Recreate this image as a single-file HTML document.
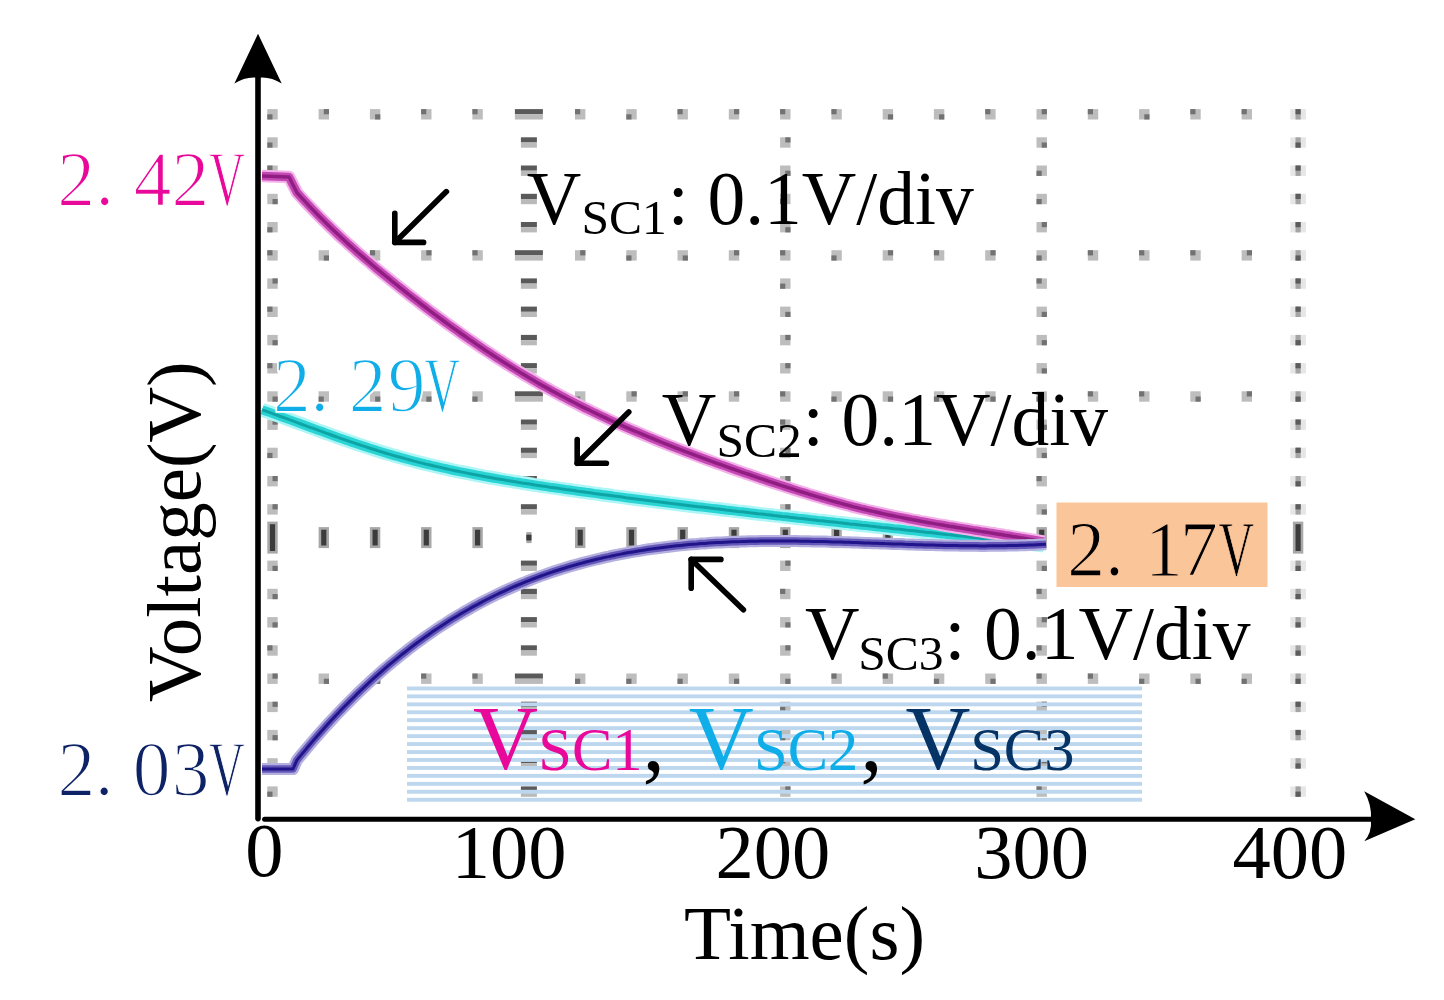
<!DOCTYPE html>
<html><head><meta charset="utf-8"><style>
html,body{margin:0;padding:0;background:#fff;}
svg{display:block;}
text{font-family:"Liberation Serif", serif;}
</style></head><body>
<svg width="1444" height="1000" viewBox="0 0 1444 1000">
<rect width="1444" height="1000" fill="#fff"/>
<rect x="267.3" y="109.1" width="10.4" height="10.4" fill="#bdbdbd"/>
<rect x="267.3" y="114.3" width="5.2" height="5.2" fill="#727272"/>
<rect x="318.6" y="109.1" width="10.4" height="10.4" fill="#bdbdbd"/>
<rect x="323.8" y="109.1" width="5.2" height="5.2" fill="#727272"/>
<rect x="369.9" y="109.1" width="10.4" height="10.4" fill="#bdbdbd"/>
<rect x="375.1" y="114.3" width="5.2" height="5.2" fill="#727272"/>
<rect x="421.1" y="109.1" width="10.4" height="10.4" fill="#bdbdbd"/>
<rect x="421.1" y="109.1" width="5.2" height="5.2" fill="#727272"/>
<rect x="472.4" y="109.1" width="10.4" height="10.4" fill="#bdbdbd"/>
<rect x="472.4" y="109.1" width="5.2" height="5.2" fill="#727272"/>
<rect x="514.9" y="109.1" width="28.0" height="5.2" fill="#5a5a5a"/>
<rect x="514.9" y="114.3" width="28.0" height="5.2" fill="#bababa"/>
<rect x="575.0" y="109.1" width="10.4" height="10.4" fill="#bdbdbd"/>
<rect x="575.0" y="109.1" width="5.2" height="5.2" fill="#727272"/>
<rect x="626.3" y="109.1" width="10.4" height="10.4" fill="#bdbdbd"/>
<rect x="626.3" y="114.3" width="5.2" height="5.2" fill="#727272"/>
<rect x="677.5" y="109.1" width="10.4" height="10.4" fill="#bdbdbd"/>
<rect x="677.5" y="109.1" width="5.2" height="5.2" fill="#727272"/>
<rect x="728.8" y="109.1" width="10.4" height="10.4" fill="#bdbdbd"/>
<rect x="734.0" y="109.1" width="5.2" height="5.2" fill="#727272"/>
<rect x="780.1" y="109.1" width="10.4" height="10.4" fill="#bdbdbd"/>
<rect x="780.1" y="109.1" width="5.2" height="5.2" fill="#727272"/>
<rect x="831.4" y="109.1" width="10.4" height="10.4" fill="#bdbdbd"/>
<rect x="831.4" y="109.1" width="5.2" height="5.2" fill="#727272"/>
<rect x="882.7" y="109.1" width="10.4" height="10.4" fill="#bdbdbd"/>
<rect x="887.9" y="114.3" width="5.2" height="5.2" fill="#727272"/>
<rect x="933.9" y="109.1" width="10.4" height="10.4" fill="#bdbdbd"/>
<rect x="939.1" y="114.3" width="5.2" height="5.2" fill="#727272"/>
<rect x="985.2" y="109.1" width="10.4" height="10.4" fill="#bdbdbd"/>
<rect x="985.2" y="109.1" width="5.2" height="5.2" fill="#727272"/>
<rect x="1036.5" y="109.1" width="10.4" height="10.4" fill="#bdbdbd"/>
<rect x="1041.7" y="109.1" width="5.2" height="5.2" fill="#727272"/>
<rect x="1087.8" y="109.1" width="10.4" height="10.4" fill="#bdbdbd"/>
<rect x="1087.8" y="109.1" width="5.2" height="5.2" fill="#727272"/>
<rect x="1139.1" y="109.1" width="10.4" height="10.4" fill="#bdbdbd"/>
<rect x="1144.3" y="114.3" width="5.2" height="5.2" fill="#727272"/>
<rect x="1190.3" y="109.1" width="10.4" height="10.4" fill="#bdbdbd"/>
<rect x="1190.3" y="109.1" width="5.2" height="5.2" fill="#727272"/>
<rect x="1241.6" y="109.1" width="10.4" height="10.4" fill="#bdbdbd"/>
<rect x="1241.6" y="109.1" width="5.2" height="5.2" fill="#727272"/>
<rect x="1290.3" y="109.1" width="15.6" height="10.4" fill="#e6e6e6"/>
<rect x="1295.5" y="109.1" width="5.2" height="10.4" fill="#a4a4a4"/>
<rect x="1295.5" y="109.1" width="5.2" height="5.2" fill="#5c5c5c"/>
<rect x="267.3" y="250.2" width="10.4" height="10.4" fill="#bdbdbd"/>
<rect x="267.3" y="250.2" width="5.2" height="5.2" fill="#727272"/>
<rect x="318.6" y="250.2" width="10.4" height="10.4" fill="#bdbdbd"/>
<rect x="323.8" y="255.4" width="5.2" height="5.2" fill="#727272"/>
<rect x="369.9" y="250.2" width="10.4" height="10.4" fill="#bdbdbd"/>
<rect x="369.9" y="250.2" width="5.2" height="5.2" fill="#727272"/>
<rect x="421.1" y="250.2" width="10.4" height="10.4" fill="#bdbdbd"/>
<rect x="426.3" y="250.2" width="5.2" height="5.2" fill="#727272"/>
<rect x="472.4" y="250.2" width="10.4" height="10.4" fill="#bdbdbd"/>
<rect x="472.4" y="250.2" width="5.2" height="5.2" fill="#727272"/>
<rect x="514.9" y="250.2" width="28.0" height="5.2" fill="#5a5a5a"/>
<rect x="514.9" y="255.4" width="28.0" height="5.2" fill="#bababa"/>
<rect x="575.0" y="250.2" width="10.4" height="10.4" fill="#bdbdbd"/>
<rect x="580.2" y="250.2" width="5.2" height="5.2" fill="#727272"/>
<rect x="626.3" y="250.2" width="10.4" height="10.4" fill="#bdbdbd"/>
<rect x="626.3" y="255.4" width="5.2" height="5.2" fill="#727272"/>
<rect x="677.5" y="250.2" width="10.4" height="10.4" fill="#bdbdbd"/>
<rect x="682.7" y="255.4" width="5.2" height="5.2" fill="#727272"/>
<rect x="728.8" y="250.2" width="10.4" height="10.4" fill="#bdbdbd"/>
<rect x="734.0" y="250.2" width="5.2" height="5.2" fill="#727272"/>
<rect x="780.1" y="250.2" width="10.4" height="10.4" fill="#bdbdbd"/>
<rect x="780.1" y="250.2" width="5.2" height="5.2" fill="#727272"/>
<rect x="831.4" y="250.2" width="10.4" height="10.4" fill="#bdbdbd"/>
<rect x="831.4" y="255.4" width="5.2" height="5.2" fill="#727272"/>
<rect x="882.7" y="250.2" width="10.4" height="10.4" fill="#bdbdbd"/>
<rect x="887.9" y="250.2" width="5.2" height="5.2" fill="#727272"/>
<rect x="933.9" y="250.2" width="10.4" height="10.4" fill="#bdbdbd"/>
<rect x="933.9" y="250.2" width="5.2" height="5.2" fill="#727272"/>
<rect x="985.2" y="250.2" width="10.4" height="10.4" fill="#bdbdbd"/>
<rect x="990.4" y="250.2" width="5.2" height="5.2" fill="#727272"/>
<rect x="1036.5" y="250.2" width="10.4" height="10.4" fill="#bdbdbd"/>
<rect x="1036.5" y="255.4" width="5.2" height="5.2" fill="#727272"/>
<rect x="1087.8" y="250.2" width="10.4" height="10.4" fill="#bdbdbd"/>
<rect x="1087.8" y="250.2" width="5.2" height="5.2" fill="#727272"/>
<rect x="1139.1" y="250.2" width="10.4" height="10.4" fill="#bdbdbd"/>
<rect x="1139.1" y="250.2" width="5.2" height="5.2" fill="#727272"/>
<rect x="1190.3" y="250.2" width="10.4" height="10.4" fill="#bdbdbd"/>
<rect x="1190.3" y="250.2" width="5.2" height="5.2" fill="#727272"/>
<rect x="1241.6" y="250.2" width="10.4" height="10.4" fill="#bdbdbd"/>
<rect x="1246.8" y="250.2" width="5.2" height="5.2" fill="#727272"/>
<rect x="1290.3" y="250.2" width="15.6" height="10.4" fill="#e6e6e6"/>
<rect x="1295.5" y="250.2" width="5.2" height="10.4" fill="#a4a4a4"/>
<rect x="1295.5" y="255.4" width="5.2" height="5.2" fill="#5c5c5c"/>
<rect x="267.3" y="391.3" width="10.4" height="10.4" fill="#bdbdbd"/>
<rect x="272.5" y="396.5" width="5.2" height="5.2" fill="#727272"/>
<rect x="318.6" y="391.3" width="10.4" height="10.4" fill="#bdbdbd"/>
<rect x="318.6" y="396.5" width="5.2" height="5.2" fill="#727272"/>
<rect x="369.9" y="391.3" width="10.4" height="10.4" fill="#bdbdbd"/>
<rect x="375.1" y="396.5" width="5.2" height="5.2" fill="#727272"/>
<rect x="421.1" y="391.3" width="10.4" height="10.4" fill="#bdbdbd"/>
<rect x="426.3" y="396.5" width="5.2" height="5.2" fill="#727272"/>
<rect x="472.4" y="391.3" width="10.4" height="10.4" fill="#bdbdbd"/>
<rect x="472.4" y="396.5" width="5.2" height="5.2" fill="#727272"/>
<rect x="514.9" y="391.3" width="28.0" height="5.2" fill="#5a5a5a"/>
<rect x="514.9" y="396.5" width="28.0" height="5.2" fill="#bababa"/>
<rect x="575.0" y="391.3" width="10.4" height="10.4" fill="#bdbdbd"/>
<rect x="575.0" y="396.5" width="5.2" height="5.2" fill="#727272"/>
<rect x="626.3" y="391.3" width="10.4" height="10.4" fill="#bdbdbd"/>
<rect x="631.5" y="391.3" width="5.2" height="5.2" fill="#727272"/>
<rect x="677.5" y="391.3" width="10.4" height="10.4" fill="#bdbdbd"/>
<rect x="682.7" y="391.3" width="5.2" height="5.2" fill="#727272"/>
<rect x="728.8" y="391.3" width="10.4" height="10.4" fill="#bdbdbd"/>
<rect x="734.0" y="391.3" width="5.2" height="5.2" fill="#727272"/>
<rect x="780.1" y="391.3" width="10.4" height="10.4" fill="#bdbdbd"/>
<rect x="780.1" y="391.3" width="5.2" height="5.2" fill="#727272"/>
<rect x="831.4" y="391.3" width="10.4" height="10.4" fill="#bdbdbd"/>
<rect x="831.4" y="396.5" width="5.2" height="5.2" fill="#727272"/>
<rect x="882.7" y="391.3" width="10.4" height="10.4" fill="#bdbdbd"/>
<rect x="887.9" y="396.5" width="5.2" height="5.2" fill="#727272"/>
<rect x="933.9" y="391.3" width="10.4" height="10.4" fill="#bdbdbd"/>
<rect x="933.9" y="396.5" width="5.2" height="5.2" fill="#727272"/>
<rect x="985.2" y="391.3" width="10.4" height="10.4" fill="#bdbdbd"/>
<rect x="990.4" y="396.5" width="5.2" height="5.2" fill="#727272"/>
<rect x="1036.5" y="391.3" width="10.4" height="10.4" fill="#bdbdbd"/>
<rect x="1036.5" y="396.5" width="5.2" height="5.2" fill="#727272"/>
<rect x="1087.8" y="391.3" width="10.4" height="10.4" fill="#bdbdbd"/>
<rect x="1087.8" y="391.3" width="5.2" height="5.2" fill="#727272"/>
<rect x="1139.1" y="391.3" width="10.4" height="10.4" fill="#bdbdbd"/>
<rect x="1139.1" y="391.3" width="5.2" height="5.2" fill="#727272"/>
<rect x="1190.3" y="391.3" width="10.4" height="10.4" fill="#bdbdbd"/>
<rect x="1195.5" y="396.5" width="5.2" height="5.2" fill="#727272"/>
<rect x="1241.6" y="391.3" width="10.4" height="10.4" fill="#bdbdbd"/>
<rect x="1246.8" y="391.3" width="5.2" height="5.2" fill="#727272"/>
<rect x="1290.3" y="391.3" width="15.6" height="10.4" fill="#e6e6e6"/>
<rect x="1295.5" y="391.3" width="5.2" height="10.4" fill="#a4a4a4"/>
<rect x="1295.5" y="396.5" width="5.2" height="5.2" fill="#5c5c5c"/>
<rect x="267.3" y="521.6" width="10.4" height="32.0" fill="#a8a8a8"/>
<rect x="269.9" y="524.2" width="5.2" height="26.8" fill="#3c3c3c"/>
<rect x="318.6" y="527.1" width="10.4" height="21.0" fill="#a8a8a8"/>
<rect x="321.2" y="529.7" width="5.2" height="15.8" fill="#3c3c3c"/>
<rect x="369.9" y="527.1" width="10.4" height="21.0" fill="#a8a8a8"/>
<rect x="372.5" y="529.7" width="5.2" height="15.8" fill="#3c3c3c"/>
<rect x="421.1" y="527.1" width="10.4" height="21.0" fill="#a8a8a8"/>
<rect x="423.7" y="529.7" width="5.2" height="15.8" fill="#3c3c3c"/>
<rect x="472.4" y="527.1" width="10.4" height="21.0" fill="#a8a8a8"/>
<rect x="475.0" y="529.7" width="5.2" height="15.8" fill="#3c3c3c"/>
<rect x="526.3" y="532.1" width="5.2" height="11.0" fill="#a8a8a8"/>
<rect x="526.3" y="534.7" width="5.2" height="5.8" fill="#3c3c3c"/>
<rect x="575.0" y="527.1" width="10.4" height="21.0" fill="#a8a8a8"/>
<rect x="577.6" y="529.7" width="5.2" height="15.8" fill="#3c3c3c"/>
<rect x="626.3" y="527.1" width="10.4" height="21.0" fill="#a8a8a8"/>
<rect x="628.9" y="529.7" width="5.2" height="15.8" fill="#3c3c3c"/>
<rect x="677.5" y="527.1" width="10.4" height="21.0" fill="#a8a8a8"/>
<rect x="680.1" y="529.7" width="5.2" height="15.8" fill="#3c3c3c"/>
<rect x="728.8" y="527.1" width="10.4" height="21.0" fill="#a8a8a8"/>
<rect x="731.4" y="529.7" width="5.2" height="15.8" fill="#3c3c3c"/>
<rect x="780.1" y="527.1" width="10.4" height="21.0" fill="#a8a8a8"/>
<rect x="782.7" y="529.7" width="5.2" height="15.8" fill="#3c3c3c"/>
<rect x="831.4" y="527.1" width="10.4" height="21.0" fill="#a8a8a8"/>
<rect x="834.0" y="529.7" width="5.2" height="15.8" fill="#3c3c3c"/>
<rect x="882.7" y="527.1" width="10.4" height="21.0" fill="#a8a8a8"/>
<rect x="885.3" y="529.7" width="5.2" height="15.8" fill="#3c3c3c"/>
<rect x="933.9" y="527.1" width="10.4" height="21.0" fill="#a8a8a8"/>
<rect x="936.5" y="529.7" width="5.2" height="15.8" fill="#3c3c3c"/>
<rect x="985.2" y="527.1" width="10.4" height="21.0" fill="#a8a8a8"/>
<rect x="987.8" y="529.7" width="5.2" height="15.8" fill="#3c3c3c"/>
<rect x="1036.5" y="527.1" width="10.4" height="21.0" fill="#a8a8a8"/>
<rect x="1039.1" y="529.7" width="5.2" height="15.8" fill="#3c3c3c"/>
<rect x="1087.8" y="527.1" width="10.4" height="21.0" fill="#a8a8a8"/>
<rect x="1090.4" y="529.7" width="5.2" height="15.8" fill="#3c3c3c"/>
<rect x="1139.1" y="527.1" width="10.4" height="21.0" fill="#a8a8a8"/>
<rect x="1141.7" y="529.7" width="5.2" height="15.8" fill="#3c3c3c"/>
<rect x="1190.3" y="527.1" width="10.4" height="21.0" fill="#a8a8a8"/>
<rect x="1192.9" y="529.7" width="5.2" height="15.8" fill="#3c3c3c"/>
<rect x="1241.6" y="527.1" width="10.4" height="21.0" fill="#a8a8a8"/>
<rect x="1244.2" y="529.7" width="5.2" height="15.8" fill="#3c3c3c"/>
<rect x="1292.9" y="521.6" width="10.4" height="32.0" fill="#a8a8a8"/>
<rect x="1295.5" y="524.2" width="5.2" height="26.8" fill="#3c3c3c"/>
<rect x="267.3" y="673.5" width="10.4" height="10.4" fill="#bdbdbd"/>
<rect x="272.5" y="673.5" width="5.2" height="5.2" fill="#727272"/>
<rect x="318.6" y="673.5" width="10.4" height="10.4" fill="#bdbdbd"/>
<rect x="323.8" y="678.7" width="5.2" height="5.2" fill="#727272"/>
<rect x="369.9" y="673.5" width="10.4" height="10.4" fill="#bdbdbd"/>
<rect x="375.1" y="678.7" width="5.2" height="5.2" fill="#727272"/>
<rect x="421.1" y="673.5" width="10.4" height="10.4" fill="#bdbdbd"/>
<rect x="421.1" y="673.5" width="5.2" height="5.2" fill="#727272"/>
<rect x="472.4" y="673.5" width="10.4" height="10.4" fill="#bdbdbd"/>
<rect x="472.4" y="673.5" width="5.2" height="5.2" fill="#727272"/>
<rect x="514.9" y="673.5" width="28.0" height="5.2" fill="#5a5a5a"/>
<rect x="514.9" y="678.7" width="28.0" height="5.2" fill="#bababa"/>
<rect x="575.0" y="673.5" width="10.4" height="10.4" fill="#bdbdbd"/>
<rect x="575.0" y="678.7" width="5.2" height="5.2" fill="#727272"/>
<rect x="626.3" y="673.5" width="10.4" height="10.4" fill="#bdbdbd"/>
<rect x="626.3" y="678.7" width="5.2" height="5.2" fill="#727272"/>
<rect x="677.5" y="673.5" width="10.4" height="10.4" fill="#bdbdbd"/>
<rect x="677.5" y="678.7" width="5.2" height="5.2" fill="#727272"/>
<rect x="728.8" y="673.5" width="10.4" height="10.4" fill="#bdbdbd"/>
<rect x="734.0" y="678.7" width="5.2" height="5.2" fill="#727272"/>
<rect x="780.1" y="673.5" width="10.4" height="10.4" fill="#bdbdbd"/>
<rect x="785.3" y="678.7" width="5.2" height="5.2" fill="#727272"/>
<rect x="831.4" y="673.5" width="10.4" height="10.4" fill="#bdbdbd"/>
<rect x="831.4" y="673.5" width="5.2" height="5.2" fill="#727272"/>
<rect x="882.7" y="673.5" width="10.4" height="10.4" fill="#bdbdbd"/>
<rect x="882.7" y="673.5" width="5.2" height="5.2" fill="#727272"/>
<rect x="933.9" y="673.5" width="10.4" height="10.4" fill="#bdbdbd"/>
<rect x="933.9" y="678.7" width="5.2" height="5.2" fill="#727272"/>
<rect x="985.2" y="673.5" width="10.4" height="10.4" fill="#bdbdbd"/>
<rect x="990.4" y="678.7" width="5.2" height="5.2" fill="#727272"/>
<rect x="1036.5" y="673.5" width="10.4" height="10.4" fill="#bdbdbd"/>
<rect x="1036.5" y="673.5" width="5.2" height="5.2" fill="#727272"/>
<rect x="1087.8" y="673.5" width="10.4" height="10.4" fill="#bdbdbd"/>
<rect x="1087.8" y="673.5" width="5.2" height="5.2" fill="#727272"/>
<rect x="1139.1" y="673.5" width="10.4" height="10.4" fill="#bdbdbd"/>
<rect x="1139.1" y="678.7" width="5.2" height="5.2" fill="#727272"/>
<rect x="1190.3" y="673.5" width="10.4" height="10.4" fill="#bdbdbd"/>
<rect x="1195.5" y="678.7" width="5.2" height="5.2" fill="#727272"/>
<rect x="1241.6" y="673.5" width="10.4" height="10.4" fill="#bdbdbd"/>
<rect x="1241.6" y="678.7" width="5.2" height="5.2" fill="#727272"/>
<rect x="1290.3" y="673.5" width="15.6" height="10.4" fill="#e6e6e6"/>
<rect x="1295.5" y="673.5" width="5.2" height="10.4" fill="#a4a4a4"/>
<rect x="1295.5" y="678.7" width="5.2" height="5.2" fill="#5c5c5c"/>
<rect x="267.3" y="137.3" width="10.4" height="10.4" fill="#bdbdbd"/>
<rect x="267.3" y="142.5" width="5.2" height="5.2" fill="#727272"/>
<rect x="267.3" y="165.5" width="10.4" height="10.4" fill="#bdbdbd"/>
<rect x="267.3" y="165.5" width="5.2" height="5.2" fill="#727272"/>
<rect x="267.3" y="193.8" width="10.4" height="10.4" fill="#bdbdbd"/>
<rect x="272.5" y="199.0" width="5.2" height="5.2" fill="#727272"/>
<rect x="267.3" y="222.0" width="10.4" height="10.4" fill="#bdbdbd"/>
<rect x="267.3" y="227.2" width="5.2" height="5.2" fill="#727272"/>
<rect x="267.3" y="278.4" width="10.4" height="10.4" fill="#bdbdbd"/>
<rect x="272.5" y="278.4" width="5.2" height="5.2" fill="#727272"/>
<rect x="267.3" y="306.6" width="10.4" height="10.4" fill="#bdbdbd"/>
<rect x="267.3" y="306.6" width="5.2" height="5.2" fill="#727272"/>
<rect x="267.3" y="334.9" width="10.4" height="10.4" fill="#bdbdbd"/>
<rect x="272.5" y="340.1" width="5.2" height="5.2" fill="#727272"/>
<rect x="267.3" y="363.1" width="10.4" height="10.4" fill="#bdbdbd"/>
<rect x="267.3" y="363.1" width="5.2" height="5.2" fill="#727272"/>
<rect x="267.3" y="419.5" width="10.4" height="10.4" fill="#bdbdbd"/>
<rect x="272.5" y="419.5" width="5.2" height="5.2" fill="#727272"/>
<rect x="267.3" y="447.7" width="10.4" height="10.4" fill="#bdbdbd"/>
<rect x="267.3" y="452.9" width="5.2" height="5.2" fill="#727272"/>
<rect x="267.3" y="476.0" width="10.4" height="10.4" fill="#bdbdbd"/>
<rect x="272.5" y="476.0" width="5.2" height="5.2" fill="#727272"/>
<rect x="267.3" y="504.2" width="10.4" height="10.4" fill="#bdbdbd"/>
<rect x="272.5" y="504.2" width="5.2" height="5.2" fill="#727272"/>
<rect x="267.3" y="560.6" width="10.4" height="10.4" fill="#bdbdbd"/>
<rect x="272.5" y="565.8" width="5.2" height="5.2" fill="#727272"/>
<rect x="267.3" y="588.8" width="10.4" height="10.4" fill="#bdbdbd"/>
<rect x="272.5" y="594.0" width="5.2" height="5.2" fill="#727272"/>
<rect x="267.3" y="617.1" width="10.4" height="10.4" fill="#bdbdbd"/>
<rect x="272.5" y="622.3" width="5.2" height="5.2" fill="#727272"/>
<rect x="267.3" y="645.3" width="10.4" height="10.4" fill="#bdbdbd"/>
<rect x="267.3" y="645.3" width="5.2" height="5.2" fill="#727272"/>
<rect x="267.3" y="701.7" width="10.4" height="10.4" fill="#bdbdbd"/>
<rect x="272.5" y="701.7" width="5.2" height="5.2" fill="#727272"/>
<rect x="267.3" y="729.9" width="10.4" height="10.4" fill="#bdbdbd"/>
<rect x="272.5" y="735.1" width="5.2" height="5.2" fill="#727272"/>
<rect x="267.3" y="758.2" width="10.4" height="10.4" fill="#bdbdbd"/>
<rect x="272.5" y="763.4" width="5.2" height="5.2" fill="#727272"/>
<rect x="267.3" y="786.4" width="10.4" height="10.4" fill="#bdbdbd"/>
<rect x="267.3" y="791.6" width="5.2" height="5.2" fill="#727272"/>
<rect x="520.9" y="137.3" width="16.0" height="5.2" fill="#5a5a5a"/>
<rect x="520.9" y="142.5" width="16.0" height="5.2" fill="#bababa"/>
<rect x="520.9" y="165.5" width="16.0" height="5.2" fill="#5a5a5a"/>
<rect x="520.9" y="170.7" width="16.0" height="5.2" fill="#bababa"/>
<rect x="520.9" y="193.8" width="16.0" height="5.2" fill="#5a5a5a"/>
<rect x="520.9" y="199.0" width="16.0" height="5.2" fill="#bababa"/>
<rect x="520.9" y="222.0" width="16.0" height="5.2" fill="#5a5a5a"/>
<rect x="520.9" y="227.2" width="16.0" height="5.2" fill="#bababa"/>
<rect x="520.9" y="278.4" width="16.0" height="5.2" fill="#5a5a5a"/>
<rect x="520.9" y="283.6" width="16.0" height="5.2" fill="#bababa"/>
<rect x="520.9" y="306.6" width="16.0" height="5.2" fill="#5a5a5a"/>
<rect x="520.9" y="311.8" width="16.0" height="5.2" fill="#bababa"/>
<rect x="520.9" y="334.9" width="16.0" height="5.2" fill="#5a5a5a"/>
<rect x="520.9" y="340.1" width="16.0" height="5.2" fill="#bababa"/>
<rect x="520.9" y="363.1" width="16.0" height="5.2" fill="#5a5a5a"/>
<rect x="520.9" y="368.3" width="16.0" height="5.2" fill="#bababa"/>
<rect x="520.9" y="419.5" width="16.0" height="5.2" fill="#5a5a5a"/>
<rect x="520.9" y="424.7" width="16.0" height="5.2" fill="#bababa"/>
<rect x="520.9" y="447.7" width="16.0" height="5.2" fill="#5a5a5a"/>
<rect x="520.9" y="452.9" width="16.0" height="5.2" fill="#bababa"/>
<rect x="520.9" y="476.0" width="16.0" height="5.2" fill="#5a5a5a"/>
<rect x="520.9" y="481.2" width="16.0" height="5.2" fill="#bababa"/>
<rect x="520.9" y="504.2" width="16.0" height="5.2" fill="#5a5a5a"/>
<rect x="520.9" y="509.4" width="16.0" height="5.2" fill="#bababa"/>
<rect x="520.9" y="560.6" width="16.0" height="5.2" fill="#5a5a5a"/>
<rect x="520.9" y="565.8" width="16.0" height="5.2" fill="#bababa"/>
<rect x="520.9" y="588.8" width="16.0" height="5.2" fill="#5a5a5a"/>
<rect x="520.9" y="594.0" width="16.0" height="5.2" fill="#bababa"/>
<rect x="520.9" y="617.1" width="16.0" height="5.2" fill="#5a5a5a"/>
<rect x="520.9" y="622.3" width="16.0" height="5.2" fill="#bababa"/>
<rect x="520.9" y="645.3" width="16.0" height="5.2" fill="#5a5a5a"/>
<rect x="520.9" y="650.5" width="16.0" height="5.2" fill="#bababa"/>
<rect x="520.9" y="701.7" width="16.0" height="5.2" fill="#5a5a5a"/>
<rect x="520.9" y="706.9" width="16.0" height="5.2" fill="#bababa"/>
<rect x="520.9" y="729.9" width="16.0" height="5.2" fill="#5a5a5a"/>
<rect x="520.9" y="735.1" width="16.0" height="5.2" fill="#bababa"/>
<rect x="520.9" y="758.2" width="16.0" height="5.2" fill="#5a5a5a"/>
<rect x="520.9" y="763.4" width="16.0" height="5.2" fill="#bababa"/>
<rect x="520.9" y="786.4" width="16.0" height="5.2" fill="#5a5a5a"/>
<rect x="520.9" y="791.6" width="16.0" height="5.2" fill="#bababa"/>
<rect x="780.1" y="137.3" width="10.4" height="10.4" fill="#bdbdbd"/>
<rect x="785.3" y="137.3" width="5.2" height="5.2" fill="#727272"/>
<rect x="780.1" y="165.5" width="10.4" height="10.4" fill="#bdbdbd"/>
<rect x="785.3" y="170.7" width="5.2" height="5.2" fill="#727272"/>
<rect x="780.1" y="193.8" width="10.4" height="10.4" fill="#bdbdbd"/>
<rect x="780.1" y="199.0" width="5.2" height="5.2" fill="#727272"/>
<rect x="780.1" y="222.0" width="10.4" height="10.4" fill="#bdbdbd"/>
<rect x="785.3" y="227.2" width="5.2" height="5.2" fill="#727272"/>
<rect x="780.1" y="278.4" width="10.4" height="10.4" fill="#bdbdbd"/>
<rect x="780.1" y="283.6" width="5.2" height="5.2" fill="#727272"/>
<rect x="780.1" y="306.6" width="10.4" height="10.4" fill="#bdbdbd"/>
<rect x="785.3" y="311.8" width="5.2" height="5.2" fill="#727272"/>
<rect x="780.1" y="334.9" width="10.4" height="10.4" fill="#bdbdbd"/>
<rect x="785.3" y="334.9" width="5.2" height="5.2" fill="#727272"/>
<rect x="780.1" y="363.1" width="10.4" height="10.4" fill="#bdbdbd"/>
<rect x="785.3" y="363.1" width="5.2" height="5.2" fill="#727272"/>
<rect x="780.1" y="419.5" width="10.4" height="10.4" fill="#bdbdbd"/>
<rect x="780.1" y="419.5" width="5.2" height="5.2" fill="#727272"/>
<rect x="780.1" y="447.7" width="10.4" height="10.4" fill="#bdbdbd"/>
<rect x="785.3" y="447.7" width="5.2" height="5.2" fill="#727272"/>
<rect x="780.1" y="476.0" width="10.4" height="10.4" fill="#bdbdbd"/>
<rect x="785.3" y="476.0" width="5.2" height="5.2" fill="#727272"/>
<rect x="780.1" y="504.2" width="10.4" height="10.4" fill="#bdbdbd"/>
<rect x="785.3" y="504.2" width="5.2" height="5.2" fill="#727272"/>
<rect x="780.1" y="560.6" width="10.4" height="10.4" fill="#bdbdbd"/>
<rect x="785.3" y="560.6" width="5.2" height="5.2" fill="#727272"/>
<rect x="780.1" y="588.8" width="10.4" height="10.4" fill="#bdbdbd"/>
<rect x="780.1" y="588.8" width="5.2" height="5.2" fill="#727272"/>
<rect x="780.1" y="617.1" width="10.4" height="10.4" fill="#bdbdbd"/>
<rect x="785.3" y="622.3" width="5.2" height="5.2" fill="#727272"/>
<rect x="780.1" y="645.3" width="10.4" height="10.4" fill="#bdbdbd"/>
<rect x="785.3" y="645.3" width="5.2" height="5.2" fill="#727272"/>
<rect x="780.1" y="701.7" width="10.4" height="10.4" fill="#bdbdbd"/>
<rect x="780.1" y="706.9" width="5.2" height="5.2" fill="#727272"/>
<rect x="780.1" y="729.9" width="10.4" height="10.4" fill="#bdbdbd"/>
<rect x="780.1" y="735.1" width="5.2" height="5.2" fill="#727272"/>
<rect x="780.1" y="758.2" width="10.4" height="10.4" fill="#bdbdbd"/>
<rect x="780.1" y="758.2" width="5.2" height="5.2" fill="#727272"/>
<rect x="780.1" y="786.4" width="10.4" height="10.4" fill="#bdbdbd"/>
<rect x="785.3" y="786.4" width="5.2" height="5.2" fill="#727272"/>
<rect x="1036.5" y="137.3" width="10.4" height="10.4" fill="#bdbdbd"/>
<rect x="1041.7" y="142.5" width="5.2" height="5.2" fill="#727272"/>
<rect x="1036.5" y="165.5" width="10.4" height="10.4" fill="#bdbdbd"/>
<rect x="1036.5" y="170.7" width="5.2" height="5.2" fill="#727272"/>
<rect x="1036.5" y="193.8" width="10.4" height="10.4" fill="#bdbdbd"/>
<rect x="1036.5" y="199.0" width="5.2" height="5.2" fill="#727272"/>
<rect x="1036.5" y="222.0" width="10.4" height="10.4" fill="#bdbdbd"/>
<rect x="1041.7" y="222.0" width="5.2" height="5.2" fill="#727272"/>
<rect x="1036.5" y="278.4" width="10.4" height="10.4" fill="#bdbdbd"/>
<rect x="1036.5" y="278.4" width="5.2" height="5.2" fill="#727272"/>
<rect x="1036.5" y="306.6" width="10.4" height="10.4" fill="#bdbdbd"/>
<rect x="1041.7" y="311.8" width="5.2" height="5.2" fill="#727272"/>
<rect x="1036.5" y="334.9" width="10.4" height="10.4" fill="#bdbdbd"/>
<rect x="1041.7" y="340.1" width="5.2" height="5.2" fill="#727272"/>
<rect x="1036.5" y="363.1" width="10.4" height="10.4" fill="#bdbdbd"/>
<rect x="1041.7" y="368.3" width="5.2" height="5.2" fill="#727272"/>
<rect x="1036.5" y="419.5" width="10.4" height="10.4" fill="#bdbdbd"/>
<rect x="1041.7" y="424.7" width="5.2" height="5.2" fill="#727272"/>
<rect x="1036.5" y="447.7" width="10.4" height="10.4" fill="#bdbdbd"/>
<rect x="1041.7" y="452.9" width="5.2" height="5.2" fill="#727272"/>
<rect x="1036.5" y="476.0" width="10.4" height="10.4" fill="#bdbdbd"/>
<rect x="1036.5" y="476.0" width="5.2" height="5.2" fill="#727272"/>
<rect x="1036.5" y="504.2" width="10.4" height="10.4" fill="#bdbdbd"/>
<rect x="1041.7" y="509.4" width="5.2" height="5.2" fill="#727272"/>
<rect x="1036.5" y="560.6" width="10.4" height="10.4" fill="#bdbdbd"/>
<rect x="1041.7" y="565.8" width="5.2" height="5.2" fill="#727272"/>
<rect x="1036.5" y="588.8" width="10.4" height="10.4" fill="#bdbdbd"/>
<rect x="1036.5" y="588.8" width="5.2" height="5.2" fill="#727272"/>
<rect x="1036.5" y="617.1" width="10.4" height="10.4" fill="#bdbdbd"/>
<rect x="1041.7" y="617.1" width="5.2" height="5.2" fill="#727272"/>
<rect x="1036.5" y="645.3" width="10.4" height="10.4" fill="#bdbdbd"/>
<rect x="1036.5" y="645.3" width="5.2" height="5.2" fill="#727272"/>
<rect x="1036.5" y="701.7" width="10.4" height="10.4" fill="#bdbdbd"/>
<rect x="1041.7" y="701.7" width="5.2" height="5.2" fill="#727272"/>
<rect x="1036.5" y="729.9" width="10.4" height="10.4" fill="#bdbdbd"/>
<rect x="1041.7" y="735.1" width="5.2" height="5.2" fill="#727272"/>
<rect x="1036.5" y="758.2" width="10.4" height="10.4" fill="#bdbdbd"/>
<rect x="1041.7" y="758.2" width="5.2" height="5.2" fill="#727272"/>
<rect x="1036.5" y="786.4" width="10.4" height="10.4" fill="#bdbdbd"/>
<rect x="1036.5" y="786.4" width="5.2" height="5.2" fill="#727272"/>
<rect x="1290.3" y="137.3" width="15.6" height="10.4" fill="#e6e6e6"/>
<rect x="1295.5" y="137.3" width="5.2" height="10.4" fill="#a4a4a4"/>
<rect x="1295.5" y="142.5" width="5.2" height="5.2" fill="#5c5c5c"/>
<rect x="1290.3" y="165.5" width="15.6" height="10.4" fill="#e6e6e6"/>
<rect x="1295.5" y="165.5" width="5.2" height="10.4" fill="#a4a4a4"/>
<rect x="1295.5" y="165.5" width="5.2" height="5.2" fill="#5c5c5c"/>
<rect x="1290.3" y="193.8" width="15.6" height="10.4" fill="#e6e6e6"/>
<rect x="1295.5" y="193.8" width="5.2" height="10.4" fill="#a4a4a4"/>
<rect x="1295.5" y="193.8" width="5.2" height="5.2" fill="#5c5c5c"/>
<rect x="1290.3" y="222.0" width="15.6" height="10.4" fill="#e6e6e6"/>
<rect x="1295.5" y="222.0" width="5.2" height="10.4" fill="#a4a4a4"/>
<rect x="1295.5" y="222.0" width="5.2" height="5.2" fill="#5c5c5c"/>
<rect x="1290.3" y="278.4" width="15.6" height="10.4" fill="#e6e6e6"/>
<rect x="1295.5" y="278.4" width="5.2" height="10.4" fill="#a4a4a4"/>
<rect x="1295.5" y="278.4" width="5.2" height="5.2" fill="#5c5c5c"/>
<rect x="1290.3" y="306.6" width="15.6" height="10.4" fill="#e6e6e6"/>
<rect x="1295.5" y="306.6" width="5.2" height="10.4" fill="#a4a4a4"/>
<rect x="1295.5" y="306.6" width="5.2" height="5.2" fill="#5c5c5c"/>
<rect x="1290.3" y="334.9" width="15.6" height="10.4" fill="#e6e6e6"/>
<rect x="1295.5" y="334.9" width="5.2" height="10.4" fill="#a4a4a4"/>
<rect x="1295.5" y="340.1" width="5.2" height="5.2" fill="#5c5c5c"/>
<rect x="1290.3" y="363.1" width="15.6" height="10.4" fill="#e6e6e6"/>
<rect x="1295.5" y="363.1" width="5.2" height="10.4" fill="#a4a4a4"/>
<rect x="1295.5" y="363.1" width="5.2" height="5.2" fill="#5c5c5c"/>
<rect x="1290.3" y="419.5" width="15.6" height="10.4" fill="#e6e6e6"/>
<rect x="1295.5" y="419.5" width="5.2" height="10.4" fill="#a4a4a4"/>
<rect x="1295.5" y="419.5" width="5.2" height="5.2" fill="#5c5c5c"/>
<rect x="1290.3" y="447.7" width="15.6" height="10.4" fill="#e6e6e6"/>
<rect x="1295.5" y="447.7" width="5.2" height="10.4" fill="#a4a4a4"/>
<rect x="1295.5" y="447.7" width="5.2" height="5.2" fill="#5c5c5c"/>
<rect x="1290.3" y="476.0" width="15.6" height="10.4" fill="#e6e6e6"/>
<rect x="1295.5" y="476.0" width="5.2" height="10.4" fill="#a4a4a4"/>
<rect x="1295.5" y="481.2" width="5.2" height="5.2" fill="#5c5c5c"/>
<rect x="1290.3" y="504.2" width="15.6" height="10.4" fill="#e6e6e6"/>
<rect x="1295.5" y="504.2" width="5.2" height="10.4" fill="#a4a4a4"/>
<rect x="1295.5" y="504.2" width="5.2" height="5.2" fill="#5c5c5c"/>
<rect x="1290.3" y="560.6" width="15.6" height="10.4" fill="#e6e6e6"/>
<rect x="1295.5" y="560.6" width="5.2" height="10.4" fill="#a4a4a4"/>
<rect x="1295.5" y="565.8" width="5.2" height="5.2" fill="#5c5c5c"/>
<rect x="1290.3" y="588.8" width="15.6" height="10.4" fill="#e6e6e6"/>
<rect x="1295.5" y="588.8" width="5.2" height="10.4" fill="#a4a4a4"/>
<rect x="1295.5" y="594.0" width="5.2" height="5.2" fill="#5c5c5c"/>
<rect x="1290.3" y="617.1" width="15.6" height="10.4" fill="#e6e6e6"/>
<rect x="1295.5" y="617.1" width="5.2" height="10.4" fill="#a4a4a4"/>
<rect x="1295.5" y="622.3" width="5.2" height="5.2" fill="#5c5c5c"/>
<rect x="1290.3" y="645.3" width="15.6" height="10.4" fill="#e6e6e6"/>
<rect x="1295.5" y="645.3" width="5.2" height="10.4" fill="#a4a4a4"/>
<rect x="1295.5" y="650.5" width="5.2" height="5.2" fill="#5c5c5c"/>
<rect x="1290.3" y="701.7" width="15.6" height="10.4" fill="#e6e6e6"/>
<rect x="1295.5" y="701.7" width="5.2" height="10.4" fill="#a4a4a4"/>
<rect x="1295.5" y="701.7" width="5.2" height="5.2" fill="#5c5c5c"/>
<rect x="1290.3" y="729.9" width="15.6" height="10.4" fill="#e6e6e6"/>
<rect x="1295.5" y="729.9" width="5.2" height="10.4" fill="#a4a4a4"/>
<rect x="1295.5" y="729.9" width="5.2" height="5.2" fill="#5c5c5c"/>
<rect x="1290.3" y="758.2" width="15.6" height="10.4" fill="#e6e6e6"/>
<rect x="1295.5" y="758.2" width="5.2" height="10.4" fill="#a4a4a4"/>
<rect x="1295.5" y="763.4" width="5.2" height="5.2" fill="#5c5c5c"/>
<rect x="1290.3" y="786.4" width="15.6" height="10.4" fill="#e6e6e6"/>
<rect x="1295.5" y="786.4" width="5.2" height="10.4" fill="#a4a4a4"/>
<rect x="1295.5" y="791.6" width="5.2" height="5.2" fill="#5c5c5c"/>
<rect x="407.0" y="686.5" width="735.0" height="3.9" fill="#bdd7ee"/>
<rect x="407.0" y="694.4" width="735.0" height="3.9" fill="#bdd7ee"/>
<rect x="407.0" y="702.4" width="735.0" height="3.9" fill="#bdd7ee"/>
<rect x="407.0" y="710.3" width="735.0" height="3.9" fill="#bdd7ee"/>
<rect x="407.0" y="718.2" width="735.0" height="3.9" fill="#bdd7ee"/>
<rect x="407.0" y="726.2" width="735.0" height="3.9" fill="#bdd7ee"/>
<rect x="407.0" y="734.2" width="735.0" height="3.9" fill="#bdd7ee"/>
<rect x="407.0" y="742.1" width="735.0" height="3.9" fill="#bdd7ee"/>
<rect x="407.0" y="750.1" width="735.0" height="3.9" fill="#bdd7ee"/>
<rect x="407.0" y="758.0" width="735.0" height="3.9" fill="#bdd7ee"/>
<rect x="407.0" y="766.0" width="735.0" height="3.9" fill="#bdd7ee"/>
<rect x="407.0" y="773.9" width="735.0" height="3.9" fill="#bdd7ee"/>
<rect x="407.0" y="781.9" width="735.0" height="3.9" fill="#bdd7ee"/>
<rect x="407.0" y="789.8" width="735.0" height="3.9" fill="#bdd7ee"/>
<rect x="407.0" y="797.8" width="735.0" height="3.9" fill="#bdd7ee"/>
<rect x="1056.5" y="502.5" width="211.0" height="84.5" fill="#fbc59a"/>
<polyline points="262.0,409.8 266.0,411.2 270.0,412.6 274.0,414.1 278.0,415.5 282.0,417.0 286.0,418.4 290.0,419.9 294.0,421.4 298.0,422.8 302.0,424.3 306.0,425.8 310.0,427.3 314.0,428.7 318.0,430.2 322.0,431.6 326.0,433.1 330.0,434.5 334.0,436.0 338.0,437.4 342.0,438.8 346.0,440.2 350.0,441.6 354.0,442.9 358.0,444.3 362.0,445.6 366.0,446.9 370.0,448.2 374.0,449.5 378.0,450.8 382.0,452.0 386.0,453.2 390.0,454.4 394.0,455.6 398.0,456.7 402.0,457.8 406.0,458.9 410.0,460.0 414.0,461.1 418.0,462.1 422.0,463.1 426.0,464.1 430.0,465.0 434.0,466.0 438.0,466.9 442.0,467.8 446.0,468.7 450.0,469.6 454.0,470.5 458.0,471.3 462.0,472.1 466.0,472.9 470.0,473.7 474.0,474.5 478.0,475.3 482.0,476.0 486.0,476.8 490.0,477.5 494.0,478.2 498.0,478.9 502.0,479.6 506.0,480.3 510.0,480.9 514.0,481.6 518.0,482.2 522.0,482.9 526.0,483.5 530.0,484.1 534.0,484.8 538.0,485.4 542.0,486.0 546.0,486.6 550.0,487.2 554.0,487.7 558.0,488.3 562.0,488.9 566.0,489.5 570.0,490.0 574.0,490.6 578.0,491.2 582.0,491.7 586.0,492.3 590.0,492.8 594.0,493.4 598.0,493.9 602.0,494.5 606.0,495.0 610.0,495.5 614.0,496.1 618.0,496.6 622.0,497.1 626.0,497.7 630.0,498.2 634.0,498.7 638.0,499.2 642.0,499.7 646.0,500.2 650.0,500.7 654.0,501.3 658.0,501.8 662.0,502.3 666.0,502.8 670.0,503.3 674.0,503.7 678.0,504.2 682.0,504.7 686.0,505.2 690.0,505.7 694.0,506.2 698.0,506.7 702.0,507.1 706.0,507.6 710.0,508.1 714.0,508.6 718.0,509.0 722.0,509.5 726.0,510.0 730.0,510.4 734.0,510.9 738.0,511.4 742.0,511.8 746.0,512.3 750.0,512.8 754.0,513.2 758.0,513.7 762.0,514.1 766.0,514.6 770.0,515.0 774.0,515.5 778.0,515.9 782.0,516.4 786.0,516.8 790.0,517.3 794.0,517.7 798.0,518.2 802.0,518.6 806.0,519.0 810.0,519.5 814.0,519.9 818.0,520.4 822.0,520.8 826.0,521.3 830.0,521.7 834.0,522.1 838.0,522.6 842.0,523.0 846.0,523.4 850.0,523.9 854.0,524.3 858.0,524.7 862.0,525.2 866.0,525.6 870.0,526.1 874.0,526.5 878.0,526.9 882.0,527.4 886.0,527.8 890.0,528.2 894.0,528.7 898.0,529.1 902.0,529.5 906.0,530.0 910.0,530.4 914.0,530.8 918.0,531.3 922.0,531.7 926.0,532.2 930.0,532.6 934.0,533.0 938.0,533.5 942.0,533.9 946.0,534.4 950.0,534.8 954.0,535.2 958.0,535.7 962.0,536.1 966.0,536.6 970.0,537.0 974.0,537.5 978.0,537.9 982.0,538.4 986.0,538.8 990.0,539.3 994.0,539.7 998.0,540.2 1002.0,540.6 1006.0,541.1 1010.0,541.5 1014.0,542.0 1018.0,542.5 1022.0,542.9 1026.0,543.4 1030.0,543.8 1034.0,544.3 1038.0,544.8 1042.0,545.2 1044.0,545.5" fill="none" stroke="#aef6f6" stroke-width="14" stroke-linejoin="round" stroke-opacity="1"/>
<polyline points="262.0,409.8 266.0,411.2 270.0,412.6 274.0,414.1 278.0,415.5 282.0,417.0 286.0,418.4 290.0,419.9 294.0,421.4 298.0,422.8 302.0,424.3 306.0,425.8 310.0,427.3 314.0,428.7 318.0,430.2 322.0,431.6 326.0,433.1 330.0,434.5 334.0,436.0 338.0,437.4 342.0,438.8 346.0,440.2 350.0,441.6 354.0,442.9 358.0,444.3 362.0,445.6 366.0,446.9 370.0,448.2 374.0,449.5 378.0,450.8 382.0,452.0 386.0,453.2 390.0,454.4 394.0,455.6 398.0,456.7 402.0,457.8 406.0,458.9 410.0,460.0 414.0,461.1 418.0,462.1 422.0,463.1 426.0,464.1 430.0,465.0 434.0,466.0 438.0,466.9 442.0,467.8 446.0,468.7 450.0,469.6 454.0,470.5 458.0,471.3 462.0,472.1 466.0,472.9 470.0,473.7 474.0,474.5 478.0,475.3 482.0,476.0 486.0,476.8 490.0,477.5 494.0,478.2 498.0,478.9 502.0,479.6 506.0,480.3 510.0,480.9 514.0,481.6 518.0,482.2 522.0,482.9 526.0,483.5 530.0,484.1 534.0,484.8 538.0,485.4 542.0,486.0 546.0,486.6 550.0,487.2 554.0,487.7 558.0,488.3 562.0,488.9 566.0,489.5 570.0,490.0 574.0,490.6 578.0,491.2 582.0,491.7 586.0,492.3 590.0,492.8 594.0,493.4 598.0,493.9 602.0,494.5 606.0,495.0 610.0,495.5 614.0,496.1 618.0,496.6 622.0,497.1 626.0,497.7 630.0,498.2 634.0,498.7 638.0,499.2 642.0,499.7 646.0,500.2 650.0,500.7 654.0,501.3 658.0,501.8 662.0,502.3 666.0,502.8 670.0,503.3 674.0,503.7 678.0,504.2 682.0,504.7 686.0,505.2 690.0,505.7 694.0,506.2 698.0,506.7 702.0,507.1 706.0,507.6 710.0,508.1 714.0,508.6 718.0,509.0 722.0,509.5 726.0,510.0 730.0,510.4 734.0,510.9 738.0,511.4 742.0,511.8 746.0,512.3 750.0,512.8 754.0,513.2 758.0,513.7 762.0,514.1 766.0,514.6 770.0,515.0 774.0,515.5 778.0,515.9 782.0,516.4 786.0,516.8 790.0,517.3 794.0,517.7 798.0,518.2 802.0,518.6 806.0,519.0 810.0,519.5 814.0,519.9 818.0,520.4 822.0,520.8 826.0,521.3 830.0,521.7 834.0,522.1 838.0,522.6 842.0,523.0 846.0,523.4 850.0,523.9 854.0,524.3 858.0,524.7 862.0,525.2 866.0,525.6 870.0,526.1 874.0,526.5 878.0,526.9 882.0,527.4 886.0,527.8 890.0,528.2 894.0,528.7 898.0,529.1 902.0,529.5 906.0,530.0 910.0,530.4 914.0,530.8 918.0,531.3 922.0,531.7 926.0,532.2 930.0,532.6 934.0,533.0 938.0,533.5 942.0,533.9 946.0,534.4 950.0,534.8 954.0,535.2 958.0,535.7 962.0,536.1 966.0,536.6 970.0,537.0 974.0,537.5 978.0,537.9 982.0,538.4 986.0,538.8 990.0,539.3 994.0,539.7 998.0,540.2 1002.0,540.6 1006.0,541.1 1010.0,541.5 1014.0,542.0 1018.0,542.5 1022.0,542.9 1026.0,543.4 1030.0,543.8 1034.0,544.3 1038.0,544.8 1042.0,545.2 1044.0,545.5" fill="none" stroke="#2ad4d4" stroke-width="9" stroke-linejoin="round" stroke-opacity="1"/>
<polyline points="262.0,409.8 266.0,411.2 270.0,412.6 274.0,414.1 278.0,415.5 282.0,417.0 286.0,418.4 290.0,419.9 294.0,421.4 298.0,422.8 302.0,424.3 306.0,425.8 310.0,427.3 314.0,428.7 318.0,430.2 322.0,431.6 326.0,433.1 330.0,434.5 334.0,436.0 338.0,437.4 342.0,438.8 346.0,440.2 350.0,441.6 354.0,442.9 358.0,444.3 362.0,445.6 366.0,446.9 370.0,448.2 374.0,449.5 378.0,450.8 382.0,452.0 386.0,453.2 390.0,454.4 394.0,455.6 398.0,456.7 402.0,457.8 406.0,458.9 410.0,460.0 414.0,461.1 418.0,462.1 422.0,463.1 426.0,464.1 430.0,465.0 434.0,466.0 438.0,466.9 442.0,467.8 446.0,468.7 450.0,469.6 454.0,470.5 458.0,471.3 462.0,472.1 466.0,472.9 470.0,473.7 474.0,474.5 478.0,475.3 482.0,476.0 486.0,476.8 490.0,477.5 494.0,478.2 498.0,478.9 502.0,479.6 506.0,480.3 510.0,480.9 514.0,481.6 518.0,482.2 522.0,482.9 526.0,483.5 530.0,484.1 534.0,484.8 538.0,485.4 542.0,486.0 546.0,486.6 550.0,487.2 554.0,487.7 558.0,488.3 562.0,488.9 566.0,489.5 570.0,490.0 574.0,490.6 578.0,491.2 582.0,491.7 586.0,492.3 590.0,492.8 594.0,493.4 598.0,493.9 602.0,494.5 606.0,495.0 610.0,495.5 614.0,496.1 618.0,496.6 622.0,497.1 626.0,497.7 630.0,498.2 634.0,498.7 638.0,499.2 642.0,499.7 646.0,500.2 650.0,500.7 654.0,501.3 658.0,501.8 662.0,502.3 666.0,502.8 670.0,503.3 674.0,503.7 678.0,504.2 682.0,504.7 686.0,505.2 690.0,505.7 694.0,506.2 698.0,506.7 702.0,507.1 706.0,507.6 710.0,508.1 714.0,508.6 718.0,509.0 722.0,509.5 726.0,510.0 730.0,510.4 734.0,510.9 738.0,511.4 742.0,511.8 746.0,512.3 750.0,512.8 754.0,513.2 758.0,513.7 762.0,514.1 766.0,514.6 770.0,515.0 774.0,515.5 778.0,515.9 782.0,516.4 786.0,516.8 790.0,517.3 794.0,517.7 798.0,518.2 802.0,518.6 806.0,519.0 810.0,519.5 814.0,519.9 818.0,520.4 822.0,520.8 826.0,521.3 830.0,521.7 834.0,522.1 838.0,522.6 842.0,523.0 846.0,523.4 850.0,523.9 854.0,524.3 858.0,524.7 862.0,525.2 866.0,525.6 870.0,526.1 874.0,526.5 878.0,526.9 882.0,527.4 886.0,527.8 890.0,528.2 894.0,528.7 898.0,529.1 902.0,529.5 906.0,530.0 910.0,530.4 914.0,530.8 918.0,531.3 922.0,531.7 926.0,532.2 930.0,532.6 934.0,533.0 938.0,533.5 942.0,533.9 946.0,534.4 950.0,534.8 954.0,535.2 958.0,535.7 962.0,536.1 966.0,536.6 970.0,537.0 974.0,537.5 978.0,537.9 982.0,538.4 986.0,538.8 990.0,539.3 994.0,539.7 998.0,540.2 1002.0,540.6 1006.0,541.1 1010.0,541.5 1014.0,542.0 1018.0,542.5 1022.0,542.9 1026.0,543.4 1030.0,543.8 1034.0,544.3 1038.0,544.8 1042.0,545.2 1044.0,545.5" fill="none" stroke="#0ea4a6" stroke-width="3" stroke-linejoin="round" stroke-opacity="1"/>
<polyline points="262.0,176.0 289.0,177.0 297.0,192.7 301.0,197.1 305.0,201.4 309.0,205.7 313.0,209.9 317.0,214.0 321.0,218.1 325.0,222.0 329.0,225.9 333.0,229.8 337.0,233.6 341.0,237.3 345.0,241.0 349.0,244.6 353.0,248.2 357.0,251.8 361.0,255.3 365.0,258.7 369.0,262.1 373.0,265.5 377.0,268.9 381.0,272.2 385.0,275.5 389.0,278.7 393.0,282.0 397.0,285.2 401.0,288.4 405.0,291.5 409.0,294.7 413.0,297.8 417.0,300.9 421.0,304.0 425.0,307.0 429.0,310.1 433.0,313.1 437.0,316.1 441.0,319.0 445.0,322.0 449.0,324.9 453.0,327.8 457.0,330.6 461.0,333.5 465.0,336.3 469.0,339.1 473.0,341.8 477.0,344.6 481.0,347.3 485.0,350.0 489.0,352.6 493.0,355.3 497.0,357.9 501.0,360.4 505.0,363.0 509.0,365.5 513.0,368.0 517.0,370.5 521.0,372.9 525.0,375.3 529.0,377.7 533.0,380.0 537.0,382.4 541.0,384.7 545.0,386.9 549.0,389.1 553.0,391.4 557.0,393.5 561.0,395.7 565.0,397.8 569.0,399.9 573.0,402.0 577.0,404.0 581.0,406.1 585.0,408.1 589.0,410.0 593.0,412.0 597.0,413.9 601.0,415.8 605.0,417.7 609.0,419.6 613.0,421.4 617.0,423.2 621.0,425.0 625.0,426.8 629.0,428.6 633.0,430.3 637.0,432.0 641.0,433.7 645.0,435.4 649.0,437.1 653.0,438.7 657.0,440.4 661.0,442.0 665.0,443.6 669.0,445.2 673.0,446.8 677.0,448.3 681.0,449.9 685.0,451.4 689.0,452.9 693.0,454.4 697.0,455.9 701.0,457.4 705.0,458.9 709.0,460.4 713.0,461.8 717.0,463.3 721.0,464.7 725.0,466.1 729.0,467.6 733.0,469.0 737.0,470.4 741.0,471.8 745.0,473.2 749.0,474.5 753.0,475.9 757.0,477.3 761.0,478.7 765.0,480.0 769.0,481.4 773.0,482.7 777.0,484.0 781.0,485.3 785.0,486.6 789.0,487.9 793.0,489.2 797.0,490.5 801.0,491.7 805.0,492.9 809.0,494.2 813.0,495.4 817.0,496.6 821.0,497.8 825.0,498.9 829.0,500.1 833.0,501.2 837.0,502.3 841.0,503.4 845.0,504.5 849.0,505.5 853.0,506.6 857.0,507.6 861.0,508.6 865.0,509.5 869.0,510.5 873.0,511.4 877.0,512.3 881.0,513.2 885.0,514.1 889.0,515.0 893.0,515.8 897.0,516.6 901.0,517.4 905.0,518.2 909.0,519.0 913.0,519.8 917.0,520.5 921.0,521.3 925.0,522.0 929.0,522.7 933.0,523.4 937.0,524.1 941.0,524.8 945.0,525.5 949.0,526.2 953.0,526.8 957.0,527.5 961.0,528.1 965.0,528.8 969.0,529.4 973.0,530.1 977.0,530.7 981.0,531.4 985.0,532.0 989.0,532.6 993.0,533.3 997.0,533.9 1001.0,534.5 1005.0,535.2 1009.0,535.8 1013.0,536.5 1017.0,537.1 1021.0,537.8 1025.0,538.4 1029.0,539.1 1033.0,539.8 1037.0,540.4 1041.0,541.1 1044.0,541.7" fill="none" stroke="#f4b2ea" stroke-width="12.5" stroke-linejoin="round" stroke-opacity="1"/>
<polyline points="262.0,176.0 289.0,177.0 297.0,192.7 301.0,197.1 305.0,201.4 309.0,205.7 313.0,209.9 317.0,214.0 321.0,218.1 325.0,222.0 329.0,225.9 333.0,229.8 337.0,233.6 341.0,237.3 345.0,241.0 349.0,244.6 353.0,248.2 357.0,251.8 361.0,255.3 365.0,258.7 369.0,262.1 373.0,265.5 377.0,268.9 381.0,272.2 385.0,275.5 389.0,278.7 393.0,282.0 397.0,285.2 401.0,288.4 405.0,291.5 409.0,294.7 413.0,297.8 417.0,300.9 421.0,304.0 425.0,307.0 429.0,310.1 433.0,313.1 437.0,316.1 441.0,319.0 445.0,322.0 449.0,324.9 453.0,327.8 457.0,330.6 461.0,333.5 465.0,336.3 469.0,339.1 473.0,341.8 477.0,344.6 481.0,347.3 485.0,350.0 489.0,352.6 493.0,355.3 497.0,357.9 501.0,360.4 505.0,363.0 509.0,365.5 513.0,368.0 517.0,370.5 521.0,372.9 525.0,375.3 529.0,377.7 533.0,380.0 537.0,382.4 541.0,384.7 545.0,386.9 549.0,389.1 553.0,391.4 557.0,393.5 561.0,395.7 565.0,397.8 569.0,399.9 573.0,402.0 577.0,404.0 581.0,406.1 585.0,408.1 589.0,410.0 593.0,412.0 597.0,413.9 601.0,415.8 605.0,417.7 609.0,419.6 613.0,421.4 617.0,423.2 621.0,425.0 625.0,426.8 629.0,428.6 633.0,430.3 637.0,432.0 641.0,433.7 645.0,435.4 649.0,437.1 653.0,438.7 657.0,440.4 661.0,442.0 665.0,443.6 669.0,445.2 673.0,446.8 677.0,448.3 681.0,449.9 685.0,451.4 689.0,452.9 693.0,454.4 697.0,455.9 701.0,457.4 705.0,458.9 709.0,460.4 713.0,461.8 717.0,463.3 721.0,464.7 725.0,466.1 729.0,467.6 733.0,469.0 737.0,470.4 741.0,471.8 745.0,473.2 749.0,474.5 753.0,475.9 757.0,477.3 761.0,478.7 765.0,480.0 769.0,481.4 773.0,482.7 777.0,484.0 781.0,485.3 785.0,486.6 789.0,487.9 793.0,489.2 797.0,490.5 801.0,491.7 805.0,492.9 809.0,494.2 813.0,495.4 817.0,496.6 821.0,497.8 825.0,498.9 829.0,500.1 833.0,501.2 837.0,502.3 841.0,503.4 845.0,504.5 849.0,505.5 853.0,506.6 857.0,507.6 861.0,508.6 865.0,509.5 869.0,510.5 873.0,511.4 877.0,512.3 881.0,513.2 885.0,514.1 889.0,515.0 893.0,515.8 897.0,516.6 901.0,517.4 905.0,518.2 909.0,519.0 913.0,519.8 917.0,520.5 921.0,521.3 925.0,522.0 929.0,522.7 933.0,523.4 937.0,524.1 941.0,524.8 945.0,525.5 949.0,526.2 953.0,526.8 957.0,527.5 961.0,528.1 965.0,528.8 969.0,529.4 973.0,530.1 977.0,530.7 981.0,531.4 985.0,532.0 989.0,532.6 993.0,533.3 997.0,533.9 1001.0,534.5 1005.0,535.2 1009.0,535.8 1013.0,536.5 1017.0,537.1 1021.0,537.8 1025.0,538.4 1029.0,539.1 1033.0,539.8 1037.0,540.4 1041.0,541.1 1044.0,541.7" fill="none" stroke="#c448b4" stroke-width="8.5" stroke-linejoin="round" stroke-opacity="1"/>
<polyline points="262.0,176.0 289.0,177.0 297.0,192.7 301.0,197.1 305.0,201.4 309.0,205.7 313.0,209.9 317.0,214.0 321.0,218.1 325.0,222.0 329.0,225.9 333.0,229.8 337.0,233.6 341.0,237.3 345.0,241.0 349.0,244.6 353.0,248.2 357.0,251.8 361.0,255.3 365.0,258.7 369.0,262.1 373.0,265.5 377.0,268.9 381.0,272.2 385.0,275.5 389.0,278.7 393.0,282.0 397.0,285.2 401.0,288.4 405.0,291.5 409.0,294.7 413.0,297.8 417.0,300.9 421.0,304.0 425.0,307.0 429.0,310.1 433.0,313.1 437.0,316.1 441.0,319.0 445.0,322.0 449.0,324.9 453.0,327.8 457.0,330.6 461.0,333.5 465.0,336.3 469.0,339.1 473.0,341.8 477.0,344.6 481.0,347.3 485.0,350.0 489.0,352.6 493.0,355.3 497.0,357.9 501.0,360.4 505.0,363.0 509.0,365.5 513.0,368.0 517.0,370.5 521.0,372.9 525.0,375.3 529.0,377.7 533.0,380.0 537.0,382.4 541.0,384.7 545.0,386.9 549.0,389.1 553.0,391.4 557.0,393.5 561.0,395.7 565.0,397.8 569.0,399.9 573.0,402.0 577.0,404.0 581.0,406.1 585.0,408.1 589.0,410.0 593.0,412.0 597.0,413.9 601.0,415.8 605.0,417.7 609.0,419.6 613.0,421.4 617.0,423.2 621.0,425.0 625.0,426.8 629.0,428.6 633.0,430.3 637.0,432.0 641.0,433.7 645.0,435.4 649.0,437.1 653.0,438.7 657.0,440.4 661.0,442.0 665.0,443.6 669.0,445.2 673.0,446.8 677.0,448.3 681.0,449.9 685.0,451.4 689.0,452.9 693.0,454.4 697.0,455.9 701.0,457.4 705.0,458.9 709.0,460.4 713.0,461.8 717.0,463.3 721.0,464.7 725.0,466.1 729.0,467.6 733.0,469.0 737.0,470.4 741.0,471.8 745.0,473.2 749.0,474.5 753.0,475.9 757.0,477.3 761.0,478.7 765.0,480.0 769.0,481.4 773.0,482.7 777.0,484.0 781.0,485.3 785.0,486.6 789.0,487.9 793.0,489.2 797.0,490.5 801.0,491.7 805.0,492.9 809.0,494.2 813.0,495.4 817.0,496.6 821.0,497.8 825.0,498.9 829.0,500.1 833.0,501.2 837.0,502.3 841.0,503.4 845.0,504.5 849.0,505.5 853.0,506.6 857.0,507.6 861.0,508.6 865.0,509.5 869.0,510.5 873.0,511.4 877.0,512.3 881.0,513.2 885.0,514.1 889.0,515.0 893.0,515.8 897.0,516.6 901.0,517.4 905.0,518.2 909.0,519.0 913.0,519.8 917.0,520.5 921.0,521.3 925.0,522.0 929.0,522.7 933.0,523.4 937.0,524.1 941.0,524.8 945.0,525.5 949.0,526.2 953.0,526.8 957.0,527.5 961.0,528.1 965.0,528.8 969.0,529.4 973.0,530.1 977.0,530.7 981.0,531.4 985.0,532.0 989.0,532.6 993.0,533.3 997.0,533.9 1001.0,534.5 1005.0,535.2 1009.0,535.8 1013.0,536.5 1017.0,537.1 1021.0,537.8 1025.0,538.4 1029.0,539.1 1033.0,539.8 1037.0,540.4 1041.0,541.1 1044.0,541.7" fill="none" stroke="#901e82" stroke-width="3.5" stroke-linejoin="round" stroke-opacity="1"/>
<polyline points="262.0,769.0 293.0,769.0 296.8,760.3 300.8,755.4 304.8,750.6 308.8,745.8 312.8,741.1 316.8,736.5 320.8,732.0 324.8,727.5 328.8,723.1 332.8,718.8 336.8,714.5 340.8,710.3 344.8,706.2 348.8,702.2 352.8,698.2 356.8,694.2 360.8,690.4 364.8,686.6 368.8,682.9 372.8,679.2 376.8,675.6 380.8,672.1 384.8,668.6 388.8,665.2 392.8,661.9 396.8,658.6 400.8,655.3 404.8,652.2 408.8,649.1 412.8,646.0 416.8,643.0 420.8,640.1 424.8,637.2 428.8,634.4 432.8,631.6 436.8,628.9 440.8,626.3 444.8,623.7 448.8,621.1 452.8,618.6 456.8,616.2 460.8,613.8 464.8,611.5 468.8,609.2 472.8,606.9 476.8,604.8 480.8,602.6 484.8,600.5 488.8,598.5 492.8,596.5 496.8,594.5 500.8,592.6 504.8,590.8 508.8,589.0 512.8,587.2 516.8,585.5 520.8,583.8 524.8,582.2 528.8,580.6 532.8,579.0 536.8,577.5 540.8,576.0 544.8,574.6 548.8,573.2 552.8,571.8 556.8,570.5 560.8,569.2 564.8,568.0 568.8,566.8 572.8,565.6 576.8,564.5 580.8,563.4 584.8,562.3 588.8,561.3 592.8,560.3 596.8,559.3 600.8,558.4 604.8,557.4 608.8,556.6 612.8,555.7 616.8,554.9 620.8,554.1 624.8,553.3 628.8,552.6 632.8,551.9 636.8,551.2 640.8,550.6 644.8,549.9 648.8,549.3 652.8,548.8 656.8,548.2 660.8,547.7 664.8,547.2 668.8,546.7 672.8,546.2 676.8,545.8 680.8,545.4 684.8,545.0 688.8,544.6 692.8,544.3 696.8,544.0 700.8,543.6 704.8,543.4 708.8,543.1 712.8,542.8 716.8,542.6 720.8,542.4 724.8,542.2 728.8,542.0 732.8,541.8 736.8,541.7 740.8,541.6 744.8,541.4 748.8,541.3 752.8,541.3 756.8,541.2 760.8,541.1 764.8,541.1 768.8,541.0 772.8,541.0 776.8,541.0 780.8,541.0 784.8,541.0 788.8,541.0 792.8,541.1 796.8,541.1 800.8,541.2 804.8,541.2 808.8,541.3 812.8,541.4 816.8,541.5 820.8,541.5 824.8,541.6 828.8,541.7 832.8,541.9 836.8,542.0 840.8,542.1 844.8,542.2 848.8,542.3 852.8,542.5 856.8,542.6 860.8,542.7 864.8,542.9 868.8,543.0 872.8,543.2 876.8,543.3 880.8,543.4 884.8,543.6 888.8,543.7 892.8,543.9 896.8,544.0 900.8,544.1 904.8,544.3 908.8,544.4 912.8,544.5 916.8,544.7 920.8,544.8 924.8,544.9 928.8,545.0 932.8,545.1 936.8,545.2 940.8,545.3 944.8,545.4 948.8,545.5 952.8,545.6 956.8,545.6 960.8,545.7 964.8,545.8 968.8,545.8 972.8,545.8 976.8,545.8 980.8,545.9 984.8,545.9 988.8,545.8 992.8,545.8 996.8,545.8 1000.8,545.7 1004.8,545.7 1008.8,545.6 1012.8,545.5 1016.8,545.4 1020.8,545.3 1024.8,545.2 1028.8,545.0 1032.8,544.9 1036.8,544.7 1040.8,544.5 1044.8,544.3 1046.0,544.2" fill="none" stroke="#b4b0e0" stroke-width="12" stroke-linejoin="round" stroke-opacity="1"/>
<polyline points="262.0,769.0 293.0,769.0 296.8,760.3 300.8,755.4 304.8,750.6 308.8,745.8 312.8,741.1 316.8,736.5 320.8,732.0 324.8,727.5 328.8,723.1 332.8,718.8 336.8,714.5 340.8,710.3 344.8,706.2 348.8,702.2 352.8,698.2 356.8,694.2 360.8,690.4 364.8,686.6 368.8,682.9 372.8,679.2 376.8,675.6 380.8,672.1 384.8,668.6 388.8,665.2 392.8,661.9 396.8,658.6 400.8,655.3 404.8,652.2 408.8,649.1 412.8,646.0 416.8,643.0 420.8,640.1 424.8,637.2 428.8,634.4 432.8,631.6 436.8,628.9 440.8,626.3 444.8,623.7 448.8,621.1 452.8,618.6 456.8,616.2 460.8,613.8 464.8,611.5 468.8,609.2 472.8,606.9 476.8,604.8 480.8,602.6 484.8,600.5 488.8,598.5 492.8,596.5 496.8,594.5 500.8,592.6 504.8,590.8 508.8,589.0 512.8,587.2 516.8,585.5 520.8,583.8 524.8,582.2 528.8,580.6 532.8,579.0 536.8,577.5 540.8,576.0 544.8,574.6 548.8,573.2 552.8,571.8 556.8,570.5 560.8,569.2 564.8,568.0 568.8,566.8 572.8,565.6 576.8,564.5 580.8,563.4 584.8,562.3 588.8,561.3 592.8,560.3 596.8,559.3 600.8,558.4 604.8,557.4 608.8,556.6 612.8,555.7 616.8,554.9 620.8,554.1 624.8,553.3 628.8,552.6 632.8,551.9 636.8,551.2 640.8,550.6 644.8,549.9 648.8,549.3 652.8,548.8 656.8,548.2 660.8,547.7 664.8,547.2 668.8,546.7 672.8,546.2 676.8,545.8 680.8,545.4 684.8,545.0 688.8,544.6 692.8,544.3 696.8,544.0 700.8,543.6 704.8,543.4 708.8,543.1 712.8,542.8 716.8,542.6 720.8,542.4 724.8,542.2 728.8,542.0 732.8,541.8 736.8,541.7 740.8,541.6 744.8,541.4 748.8,541.3 752.8,541.3 756.8,541.2 760.8,541.1 764.8,541.1 768.8,541.0 772.8,541.0 776.8,541.0 780.8,541.0 784.8,541.0 788.8,541.0 792.8,541.1 796.8,541.1 800.8,541.2 804.8,541.2 808.8,541.3 812.8,541.4 816.8,541.5 820.8,541.5 824.8,541.6 828.8,541.7 832.8,541.9 836.8,542.0 840.8,542.1 844.8,542.2 848.8,542.3 852.8,542.5 856.8,542.6 860.8,542.7 864.8,542.9 868.8,543.0 872.8,543.2 876.8,543.3 880.8,543.4 884.8,543.6 888.8,543.7 892.8,543.9 896.8,544.0 900.8,544.1 904.8,544.3 908.8,544.4 912.8,544.5 916.8,544.7 920.8,544.8 924.8,544.9 928.8,545.0 932.8,545.1 936.8,545.2 940.8,545.3 944.8,545.4 948.8,545.5 952.8,545.6 956.8,545.6 960.8,545.7 964.8,545.8 968.8,545.8 972.8,545.8 976.8,545.8 980.8,545.9 984.8,545.9 988.8,545.8 992.8,545.8 996.8,545.8 1000.8,545.7 1004.8,545.7 1008.8,545.6 1012.8,545.5 1016.8,545.4 1020.8,545.3 1024.8,545.2 1028.8,545.0 1032.8,544.9 1036.8,544.7 1040.8,544.5 1044.8,544.3 1046.0,544.2" fill="none" stroke="#6658b8" stroke-width="7.5" stroke-linejoin="round" stroke-opacity="1"/>
<polyline points="262.0,769.0 293.0,769.0 296.8,760.3 300.8,755.4 304.8,750.6 308.8,745.8 312.8,741.1 316.8,736.5 320.8,732.0 324.8,727.5 328.8,723.1 332.8,718.8 336.8,714.5 340.8,710.3 344.8,706.2 348.8,702.2 352.8,698.2 356.8,694.2 360.8,690.4 364.8,686.6 368.8,682.9 372.8,679.2 376.8,675.6 380.8,672.1 384.8,668.6 388.8,665.2 392.8,661.9 396.8,658.6 400.8,655.3 404.8,652.2 408.8,649.1 412.8,646.0 416.8,643.0 420.8,640.1 424.8,637.2 428.8,634.4 432.8,631.6 436.8,628.9 440.8,626.3 444.8,623.7 448.8,621.1 452.8,618.6 456.8,616.2 460.8,613.8 464.8,611.5 468.8,609.2 472.8,606.9 476.8,604.8 480.8,602.6 484.8,600.5 488.8,598.5 492.8,596.5 496.8,594.5 500.8,592.6 504.8,590.8 508.8,589.0 512.8,587.2 516.8,585.5 520.8,583.8 524.8,582.2 528.8,580.6 532.8,579.0 536.8,577.5 540.8,576.0 544.8,574.6 548.8,573.2 552.8,571.8 556.8,570.5 560.8,569.2 564.8,568.0 568.8,566.8 572.8,565.6 576.8,564.5 580.8,563.4 584.8,562.3 588.8,561.3 592.8,560.3 596.8,559.3 600.8,558.4 604.8,557.4 608.8,556.6 612.8,555.7 616.8,554.9 620.8,554.1 624.8,553.3 628.8,552.6 632.8,551.9 636.8,551.2 640.8,550.6 644.8,549.9 648.8,549.3 652.8,548.8 656.8,548.2 660.8,547.7 664.8,547.2 668.8,546.7 672.8,546.2 676.8,545.8 680.8,545.4 684.8,545.0 688.8,544.6 692.8,544.3 696.8,544.0 700.8,543.6 704.8,543.4 708.8,543.1 712.8,542.8 716.8,542.6 720.8,542.4 724.8,542.2 728.8,542.0 732.8,541.8 736.8,541.7 740.8,541.6 744.8,541.4 748.8,541.3 752.8,541.3 756.8,541.2 760.8,541.1 764.8,541.1 768.8,541.0 772.8,541.0 776.8,541.0 780.8,541.0 784.8,541.0 788.8,541.0 792.8,541.1 796.8,541.1 800.8,541.2 804.8,541.2 808.8,541.3 812.8,541.4 816.8,541.5 820.8,541.5 824.8,541.6 828.8,541.7 832.8,541.9 836.8,542.0 840.8,542.1 844.8,542.2 848.8,542.3 852.8,542.5 856.8,542.6 860.8,542.7 864.8,542.9 868.8,543.0 872.8,543.2 876.8,543.3 880.8,543.4 884.8,543.6 888.8,543.7 892.8,543.9 896.8,544.0 900.8,544.1 904.8,544.3 908.8,544.4 912.8,544.5 916.8,544.7 920.8,544.8 924.8,544.9 928.8,545.0 932.8,545.1 936.8,545.2 940.8,545.3 944.8,545.4 948.8,545.5 952.8,545.6 956.8,545.6 960.8,545.7 964.8,545.8 968.8,545.8 972.8,545.8 976.8,545.8 980.8,545.9 984.8,545.9 988.8,545.8 992.8,545.8 996.8,545.8 1000.8,545.7 1004.8,545.7 1008.8,545.6 1012.8,545.5 1016.8,545.4 1020.8,545.3 1024.8,545.2 1028.8,545.0 1032.8,544.9 1036.8,544.7 1040.8,544.5 1044.8,544.3 1046.0,544.2" fill="none" stroke="#20148a" stroke-width="3" stroke-linejoin="round" stroke-opacity="1"/>
<path d="M258,70 L258,818.6" stroke="#000" stroke-width="5.6" stroke-linecap="round" fill="none"/>
<path d="M264.6,819.3 L1372,819.3" stroke="#000" stroke-width="5" stroke-linecap="round" fill="none"/>
<path d="M258,33.8 L281.7,83.6 Q270,76 258,77.8 Q246,76 234.4,83.6 Z" fill="#000"/>
<path d="M1415.3,819.3 L1364.2,791.2 Q1372,805 1371,819.3 Q1372,833 1364.2,841.3 Z" fill="#000"/>
<path d="M446.4,191.6 L394.8,242.4" fill="none" stroke="#000" stroke-width="5.6" stroke-linecap="round" stroke-linejoin="round"/>
<path d="M394.8,213.2 L394.8,242.4 L423.6,242.4" fill="none" stroke="#000" stroke-width="5.6" stroke-linecap="round" stroke-linejoin="round"/>
<path d="M628.8,412.0 L577.2,463.2" fill="none" stroke="#000" stroke-width="5.6" stroke-linecap="round" stroke-linejoin="round"/>
<path d="M577.2,439.6 L577.2,463.2 L606.4,463.2" fill="none" stroke="#000" stroke-width="5.6" stroke-linecap="round" stroke-linejoin="round"/>
<path d="M743.4,609.8 L691.2,559.4" fill="none" stroke="#000" stroke-width="5.6" stroke-linecap="round" stroke-linejoin="round"/>
<path d="M691.2,588.2 L691.2,559.4 L720.9,559.4" fill="none" stroke="#000" stroke-width="5.6" stroke-linecap="round" stroke-linejoin="round"/>
<g transform="translate(0,204.5) scale(1,1.04)">
<text x="57.3 95.2 133.7 171.5" y="0" font-size="75.5" fill="#e8099b" stroke="#fff" stroke-width="1.6">2.42</text>
<text transform="translate(209.3,0) scale(0.655,1)" x="0" y="0" font-size="75.5" fill="#e8099b" stroke="#fff" stroke-width="1.28">V</text>
</g>
<g transform="translate(0,411.3) scale(1,1.04)">
<text x="273.0 310.3 348.7 387.8" y="0" font-size="75.5" fill="#10aee8" stroke="#fff" stroke-width="1.6">2.29</text>
<text transform="translate(424.6,0) scale(0.655,1)" x="0" y="0" font-size="75.5" fill="#10aee8" stroke="#fff" stroke-width="1.28">V</text>
</g>
<g transform="translate(0,795.3) scale(1,1.04)">
<text x="57.4 94.7 132.7 171.8" y="0" font-size="75.5" fill="#0e2266" stroke="#fff" stroke-width="1.6">2.03</text>
<text transform="translate(209.0,0) scale(0.655,1)" x="0" y="0" font-size="75.5" fill="#0e2266" stroke="#fff" stroke-width="1.28">V</text>
</g>
<g transform="translate(0,575.2) scale(1,1.04)">
<text x="1067.3 1105.0 1145.1 1180.0" y="0" font-size="75.5" fill="#000" stroke="#fbc59a" stroke-width="1.2">2.17</text>
<text transform="translate(1218.6,0) scale(0.655,1)" x="0" y="0" font-size="75.5" fill="#000" stroke="#fbc59a" stroke-width="0.96">V</text>
</g>
<text x="526.7" y="223.7" font-size="75.5" fill="#000">V</text>
<text x="581.5" y="234" font-size="49.5" fill="#000">SC1</text>
<text x="667.7" y="223.7" font-size="75.5" fill="#000">:</text>
<text x="707.4" y="223.7" font-size="75.5" fill="#000">0.1V/div</text>
<text x="661.7" y="445.4" font-size="75.5" fill="#000">V</text>
<text x="716.5" y="456.5" font-size="49.5" fill="#000">SC2</text>
<text x="802.7" y="445.4" font-size="75.5" fill="#000">:</text>
<text x="841.6" y="445.4" font-size="75.5" fill="#000">0.1V/div</text>
<text x="805.0" y="658.7" font-size="75.5" fill="#000">V</text>
<text x="858.2" y="669.9" font-size="49.5" fill="#000">SC3</text>
<text x="944.4" y="658.7" font-size="75.5" fill="#000">:</text>
<text x="984.1" y="658.7" font-size="75.5" fill="#000">0.1V/div</text>
<text x="473" y="769.2" font-size="90" fill="#e8099b">V</text>
<text x="538.3" y="770" font-size="60.5" fill="#e8099b">SC1</text>
<text x="642.6" y="769.5" font-size="90" fill="#000">,</text>
<text x="688.8" y="769.2" font-size="90" fill="#10aee8">V</text>
<text x="754" y="770" font-size="60.5" fill="#10aee8">SC2</text>
<text x="860.2" y="769.5" font-size="90" fill="#000">,</text>
<text x="905.6" y="769.2" font-size="90" fill="#053366">V</text>
<text x="970.2" y="770" font-size="60.5" fill="#053366">SC3</text>
<text x="245.3" y="876.2" font-size="76.5" fill="#000" >0</text>
<text x="451.8" y="877.8" font-size="76.5" fill="#000" >100</text>
<text x="715.5" y="877.8" font-size="76.5" fill="#000" >200</text>
<text x="974.3" y="877.8" font-size="76.5" fill="#000" >300</text>
<text x="1232.5" y="877.8" font-size="76.5" fill="#000" >400</text>
<text x="684" y="958.8" font-size="77" fill="#000" >Time(s)</text>
<text transform="translate(199.5,702) rotate(-90)" x="0" y="0" font-size="77" fill="#000">Voltage(V)</text>
</svg></body></html>
